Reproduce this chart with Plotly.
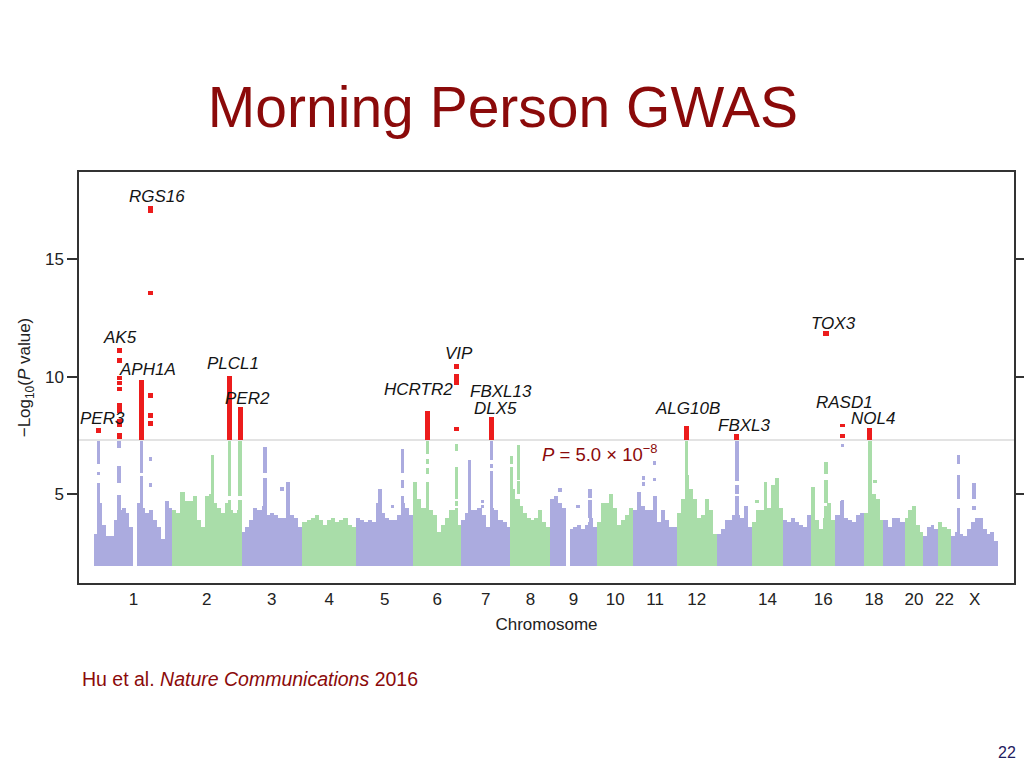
import plotly.graph_objects as go

# ---------------- data ----------------
chrom_names = ['1', '2', '3', '4', '5', '6', '7', '8', '9', '10', '11', '12',
               '13', '14', '15', '16', '17', '18', '19', '20', '21', '22', 'X']
chrom_len_mb = [249, 219, 196, 170, 184, 151, 160, 125, 149, 117, 138, 128,
                112, 99, 90, 77, 93, 60, 68, 60, 47, 41, 151]
tick_chroms = ['1', '2', '3', '4', '5', '6', '7', '8', '9', '10', '11', '12',
               '14', '16', '18', '20', '22', 'X']

# background SNP envelope: max -log10(P) in equally spaced bins (None = no SNPs)
sky_chr1 = [3.3, 4.6, 3.7, 3.2, 3.2, 3.9, 4.3, 4.4, 4.2, 3.6, None, 4.6, 4.4, 4.2, 4.3, 3.9, 3.6, 3.1, 4.7, 4.4]
sky_chr2 = [4.3, 4.2, 5.1, 4.7, 4.7, 4.9, 3.9, 3.6, 4.9, 5.0, 4.6, 4.4, 4.2, 4.6, 4.3, 4.2, 4.3]
sky_chr3 = [3.4, 3.6, 3.9, 4.4, 4.3, 4.5, 4.1, 4.2, 4.1, 4.0, 4.0, 5.5, 4.1, 4.0, 3.6]
sky_chr4 = [3.8, 3.9, 4.0, 4.1, 3.9, 3.7, 3.9, 4.0, 3.8, 3.9, 4.0, 3.7, 3.6]
sky_chr5 = [4.0, 3.9, 3.8, 3.9, 3.8, 4.6, 4.2, 4.0, 3.9, 3.9, 4.1, 4.6, 4.4, 4.1]
sky_chr6 = [5.5, 4.8, 4.4, 4.4, 4.3, 4.1, 3.4, 3.7, 4.0, 4.3, 4.3, 3.7]
sky_chr7 = [3.9, 4.2, 4.3, 4.3, 4.4, 4.1, 3.6, 4.4, 4.3, 3.9, 3.8, 3.6]
sky_chr8 = [5.2, 4.8, 4.5, 4.2, 4.0, 3.9, 4.0, 4.3, 3.8, 3.6]
sky_chr9 = [4.8, 4.9, 4.6, 4.4, None, 3.5, 3.6, 3.7, 3.5, 3.7, 4.0, 3.6]
sky_chr10 = [3.8, 4.6, 4.6, 5.0, 4.4, 3.7, 3.9, 4.1, 4.4]
sky_chr11 = [4.3, 5.1, 4.5, 4.3, 4.3, 4.9, 3.8, 4.3, 3.9, 3.6, 3.6]
sky_chr12 = [4.2, 4.8, 5.8, 5.2, 4.8, 4.0, 4.1, 4.8, 4.3, 3.3]
sky_chr13 = [3.3, 3.5, 3.9, 3.9, 4.1, 4.1, 4.0, 4.5, 3.6]
sky_chr14 = [3.8, 4.3, 4.3, 5.5, 4.4, 5.4, 5.7, 4.4]
sky_chr15 = [3.9, 3.8, 4.0, 3.8, 3.7, 3.6, 4.1]
sky_chr16 = [5.3, 3.9, 3.5, 4.0, 4.6, 3.9]
sky_chr17 = [4.1, 4.7, 4.0, 3.9, 3.8, 4.1, 4.2]
sky_chr18 = [4.2, 4.6, 5.0, 4.8, 3.9]
sky_chr19 = [3.9, 3.6, 4.0, 4.0, 3.8]
sky_chr20 = [4.0, 4.3, 4.5, 3.7, 3.4]
sky_chr21 = [3.2, 3.6, 3.7, 3.5]
sky_chr22 = [3.8, 3.6, 3.5]
sky_chrX = [3.2, 3.4, 3.3, 3.2, 3.5, 3.8, 4.0, 4.0, 3.5, 3.3, 3.4, 3.0]
skyline = [sky_chr1, sky_chr2, sky_chr3, sky_chr4, sky_chr5, sky_chr6, sky_chr7, sky_chr8,
           sky_chr9, sky_chr10, sky_chr11, sky_chr12, sky_chr13, sky_chr14, sky_chr15,
           sky_chr16, sky_chr17, sky_chr18, sky_chr19, sky_chr20, sky_chr21, sky_chr22, sky_chrX]
min_logp = 1.92

# sub-threshold SNP columns above the envelope (chromosome, position Mb, low, high)
col_chr = ['1', '1', '1', '1', '1', '1', '1', '1', '1', '1',
           '2', '2', '2', '2', '2',
           '3', '3', '3',
           '5', '5', '5', '5', '5',
           '6', '6', '6', '6', '6', '6', '6', '6',
           '7', '7', '7', '7', '7', '7',
           '8', '8', '8', '8', '8',
           '9', '9', '9', '9', '9',
           '11', '11', '11', '11',
           '12',
           '13', '13', '13',
           '14',
           '16', '16', '16',
           '17', '17',
           '18', '18',
           'X', 'X', 'X', 'X', 'X', 'X']
col_pos = [12.8, 12.8, 12.8, 78.8, 78.8, 78.8, 150.6, 150.6, 179.9, 179.9,
           128.6, 182, 182, 216, 216,
           76.6, 76.6, 131,
           77.5, 149.9, 149.9, 149.9, 118,
           45, 45, 45, 45, 137.5, 137.5, 137.5, 137.5,
           27, 98, 98, 98, 68.6, 68.6,
           2, 2, 24.9, 24.9, 24.9,
           127, 127, 127, 31.6, 89,
           31.3, 31.3, 66.4, 66.4,
           31.3,
           64.1, 64.1, 64.1,
           16,
           47.2, 47.2, 47.2,
           22, 22,
           17.5, 33.5,
           23.3, 23.3, 23.3, 73.4, 73.4, 73.4]
col_lo = [1.92, 5.8, 6.3, 1.92, 5.45, 6.95, 1.92, 5.9, 6.42, 5.3,
          1.92, 1.92, 4.9, 1.92, 4.9,
          1.92, 5.9, 5.15,
          1.92, 1.92, 5.25, 5.9, 4.4,
          1.92, 5.85, 6.3, 6.7, 1.92, 4.5, 4.8, 6.85,
          1.92, 1.92, 6.1, 6.45, 4.6, 4.42,
          1.92, 6.3, 1.92, 5.0, 5.6,
          1.92, 4.0, 4.85, 5.1, 4.4,
          5.6, 5.35, 6.25, 5.55,
          1.92,
          1.92, 5.0, 5.55,
          4.6,
          1.92, 4.6, 5.85,
          1.92, 7.0,
          1.92, 5.45,
          1.92, 4.8, 6.3, 1.92, 4.3, 4.8]
col_hi = [5.45, 5.95, 7.25, 4.95, 6.2, 7.25, 5.75, 7.25, 6.58, 5.46,
          6.65, 4.75, 7.25, 4.75, 7.25,
          5.7, 7.0, 5.3,
          5.2, 4.9, 5.6, 6.9, 4.55,
          5.5, 6.1, 6.5, 7.25, 4.4, 4.7, 6.15, 7.15,
          6.45, 6.0, 6.3, 7.25, 4.75, 4.55,
          6.15, 6.6, 4.8, 5.55, 7.08,
          3.8, 4.75, 5.2, 5.25, 4.55,
          5.75, 5.5, 6.4, 5.7,
          7.25,
          4.9, 5.4, 7.25,
          4.75,
          4.5, 5.6, 6.35,
          4.75, 7.15,
          7.25, 5.6,
          4.4, 5.8, 6.65, 3.8, 4.5, 5.45]

# genome-wide significant SNPs (P < 5e-8)
hit_chr = ['1', '1', '1', '1', '1', '1', '1', '1', '1', '1', '1', '1', '1', '1', '1',
           '2', '2', '6', '6', '6', '6', '7', '12', '13', '16', '17', '17', '18']
hit_pos = [12.8, 78.8, 78.8, 78.8, 78.8, 78.8, 78.8, 78.8, 78.8, 150.6,
           179.9, 179.9, 179.9, 179.9, 179.9,
           182, 216, 45, 137.5, 137.5, 137.5, 98, 31.3, 64.1, 47.2, 22, 22, 17.5]
hit_lo = [7.59, 11.02, 10.6, 9.85, 9.65, 9.4, 8.45, 7.85, 7.35, 7.3,
          16.96, 13.47, 9.11, 8.26, 7.9,
          7.3, 7.3, 7.3, 10.33, 9.65, 7.68, 7.3, 7.3, 7.3, 11.74, 7.84, 7.4, 7.3]
hit_hi = [7.8, 11.22, 10.8, 10.02, 9.8, 9.55, 8.87, 8.2, 7.6, 9.85,
          17.26, 13.67, 9.31, 8.46, 8.1,
          10.05, 8.7, 8.55, 10.52, 10.1, 7.85, 8.3, 7.9, 7.56, 11.94, 8.0, 7.56, 7.8]

# gene labels: genome-wide position (Mb) and -log10(P) of label centre
gene_names = ['RGS16', 'AK5', 'APH1A', 'PER3', 'PLCL1', 'PER2', 'HCRTR2', 'VIP',
              'FBXL13', 'DLX5', 'ALG10B', 'FBXL3', 'TOX3', 'RASD1', 'NOL4']
gene_x_mb = [200, 82, 171, 24.6, 442, 487, 1035, 1163, 1297, 1281, 1891, 2073, 2357, 2392, 2484]
gene_y = [17.68, 11.68, 10.32, 8.23, 10.57, 9.09, 9.47, 11.0, 9.38, 8.66, 8.66, 7.94, 12.28, 8.91, 8.23]

threshold_p = 5.0e-8
threshold_logp = 7.30
threshold_label_x_mb = 1422
threshold_label_y = 6.74

# ---------------- styling ----------------
PURPLE = '#ABABDF'
GREEN = '#A9DDA9'
RED = '#EC1C1C'
DARKRED = '#8B0A0A'
FONT = 'Liberation Sans, Arial, sans-serif'

idx = {c: i for i, c in enumerate(chrom_names)}
offsets = []
acc = 0
for L in chrom_len_mb:
    offsets.append(acc)
    acc += L
genome_len = acc


def gpos(ch, pos):
    return offsets[idx[ch]] + pos


fig = go.Figure()

# skyline bars
for color_parity, color in [(0, PURPLE), (1, GREEN)]:
    xs, ys, ws = [], [], []
    for i, heights in enumerate(skyline):
        if i % 2 != color_parity:
            continue
        w = chrom_len_mb[i] / len(heights)
        for j, h in enumerate(heights):
            if h is None:
                continue
            xs.append(offsets[i] + (j + 0.5) * w)
            ys.append(h - min_logp)
            ws.append(w)
    fig.add_trace(go.Bar(x=xs, y=ys, base=min_logp, width=ws, marker_color=color,
                         marker_line_width=0, opacity=1, hoverinfo='skip', showlegend=False))

# SNP columns
for color_parity, color in [(0, PURPLE), (1, GREEN)]:
    xs, ys, bs = [], [], []
    for c, p, lo, hi in zip(col_chr, col_pos, col_lo, col_hi):
        if idx[c] % 2 != color_parity:
            continue
        xs.append(gpos(c, p))
        bs.append(lo)
        ys.append(hi - lo)
    fig.add_trace(go.Bar(x=xs, y=ys, base=bs, width=10.5, marker_color=color,
                         marker_line_width=0, opacity=1, hoverinfo='skip', showlegend=False))

# significant hits
fig.add_trace(go.Bar(x=[gpos(c, p) for c, p in zip(hit_chr, hit_pos)],
                     y=[h - l for l, h in zip(hit_lo, hit_hi)], base=hit_lo, width=16,
                     marker_color=RED, marker_line_width=0, opacity=1,
                     hoverinfo='skip', showlegend=False))

# threshold line
fig.add_shape(type='line', xref='paper', x0=0, x1=1, yref='y', y0=threshold_logp, y1=threshold_logp,
              line=dict(color='#DADADA', width=1.5), layer='below')

annotations = []
for g, gx, gy in zip(gene_names, gene_x_mb, gene_y):
    annotations.append(dict(x=gx, y=gy, xref='x', yref='y', text='<i>%s</i>' % g, showarrow=False,
                            xanchor='center', yanchor='middle',
                            font=dict(family=FONT, size=17, color='#141414')))
annotations.append(dict(x=threshold_label_x_mb, y=threshold_label_y, xref='x', yref='y',
                        text='<i>P</i> = 5.0 × 10<sup>−8</sup>', showarrow=False,
                        xanchor='left', yanchor='middle',
                        font=dict(family=FONT, size=18.5, color=DARKRED)))
annotations.append(dict(x=0.001, y=-0.2336, xref='paper', yref='paper',
                        text='Hu et al. <i>Nature Communications</i> 2016', showarrow=False,
                        xanchor='left', yanchor='middle',
                        font=dict(family=FONT, size=19.5, color=DARKRED)))
annotations.append(dict(x=0.9925, y=-0.4136, xref='paper', yref='paper', text='22', showarrow=False,
                        xanchor='center', yanchor='middle',
                        font=dict(family=FONT, size=16, color='#1F2060')))

tick_vals = [offsets[idx[c]] + chrom_len_mb[idx[c]] / 2 for c in tick_chroms]

fig.update_layout(
    width=1024, height=768, autosize=False,
    paper_bgcolor='white', plot_bgcolor='white',
    margin=dict(l=79, r=10, t=172, b=185, autoexpand=False),
    barmode='overlay', bargap=0,
    font=dict(family=FONT, size=16, color='#222222'),
    title=dict(text='Morning Person GWAS', x=503 / 1024, xanchor='center', xref='container',
               y=1 - 107 / 768, yanchor='middle', yref='container',
               font=dict(family=FONT, size=57, color=DARKRED)),
    annotations=annotations,
    showlegend=False,
)
fig.update_xaxes(range=[-49, genome_len + 50], tickvals=tick_vals, ticktext=tick_chroms,
                 ticks='', showline=True, linecolor='#333333', linewidth=1.5, mirror=True,
                 showgrid=False, zeroline=False, tickfont=dict(size=17, color='#222222'),
                 automargin=False,
                 title=dict(text='Chromosome', font=dict(size=17, color='#222222'), standoff=10))
fig.update_yaxes(range=[1.21, 18.72], tickvals=[5, 10, 15], ticks='outside', ticklen=10,
                 tickwidth=1.5, tickcolor='#333333', showline=True, linecolor='#333333',
                 linewidth=1.5, mirror='allticks', showgrid=False, zeroline=False,
                 tickfont=dict(size=17, color='#222222'), automargin=False,
                 title=dict(text='−Log<sub>10</sub>(<i>P</i> value)',
                            font=dict(size=17, color='#222222'), standoff=10))

fig.write_html('out.html', config={'responsive': False, 'displayModeBar': False},
               post_script="document.body.style.margin='0px';")
